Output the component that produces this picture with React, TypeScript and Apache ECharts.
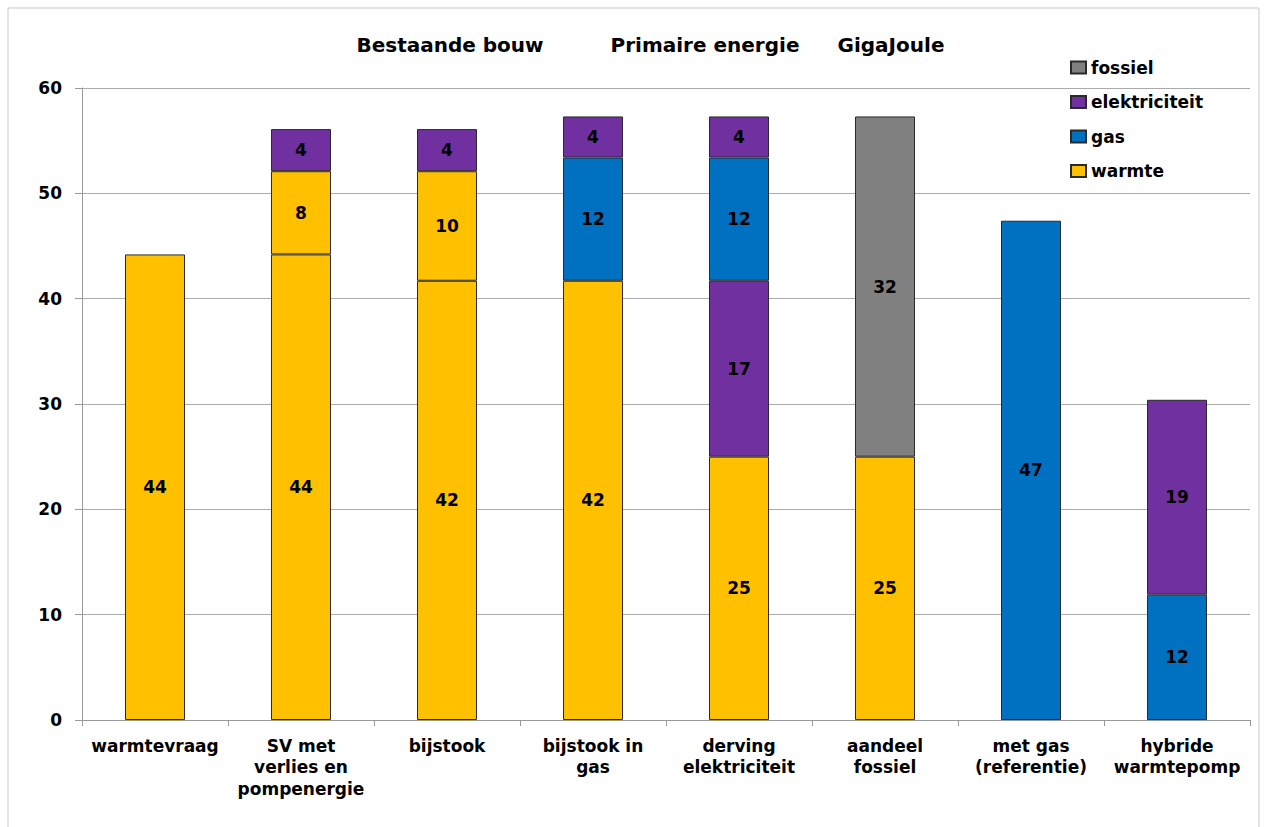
import React, { useEffect, useRef } from "react";
import * as echarts from "echarts";

const categories = [
  "warmtevraag",
  "SV met\nverlies en\npompenergie",
  "bijstook",
  "bijstook in\ngas",
  "derving\nelektriciteit",
  "aandeel\nfossiel",
  "met gas\n(referentie)",
  "hybride\nwarmtepomp",
];

// stack layers, bottom to top (null = no segment)
const warmteBase = [44.2, 44.2, 41.7, 41.7, 25.0, 25.0, null, null];
const gasBase = [null, null, null, null, null, null, 47.4, 11.9];
const warmteExtra = [null, 7.9, 10.4, null, null, null, null, null];
const elekLower = [null, null, null, null, 16.7, null, null, 18.5];
const gasUpper = [null, null, null, 11.7, 11.7, null, null, null];
const fossiel = [null, null, null, null, null, 32.3, null, null];
const elekUpper = [null, 4.0, 4.0, 3.9, 3.9, null, null, null];

const legendNames = ["fossiel", "elektriciteit", "gas", "warmte"];
const titles = ["Bestaande bouw", "Primaire energie", "GigaJoule"];

const COLORS: Record<string, string> = {
  warmte: "#FFC000",
  gas: "#0070C0",
  elektriciteit: "#7030A0",
  fossiel: "#808080",
};

const FONT = "DejaVu Sans";

export default function App() {
  const ref = useRef<HTMLDivElement>(null);
  useEffect(() => {
    const chart = echarts.init(ref.current!, null, { renderer: "svg" });
    const mk = (name: string, data: (number | null)[]) => ({
      name,
      type: "bar",
      stack: "total",
      barWidth: 60,
      data: data.map((v) => (v == null ? "-" : v)),
      itemStyle: { color: COLORS[name], borderColor: "#2a2a2a", borderWidth: 1 },
      label: {
        show: true,
        position: "inside",
        color: "#000",
        fontFamily: FONT,
        fontWeight: "bold",
        fontSize: 17,
        formatter: (p: any) => String(Math.round(p.value)),
      },
    });
    chart.setOption({
      animation: false,
      backgroundColor: "#fff",
      grid: { left: 82, right: 14, top: 88, bottom: 107, containLabel: false },
      legend: {
        orient: "vertical",
        left: 1065,
        top: 54,
        itemWidth: 15,
        itemHeight: 12,
        itemGap: 17.5,
        icon: "rect",
        data: legendNames,
        textStyle: { fontFamily: FONT, fontWeight: "bold", fontSize: 17, color: "#000" },
        selectedMode: false,
      },
      xAxis: {
        type: "category",
        data: categories,
        axisLine: { lineStyle: { color: "#999" } },
        axisTick: { show: true, length: 6, lineStyle: { color: "#999" } },
        axisLabel: {
          interval: 0,
          fontFamily: FONT,
          fontWeight: "bold",
          fontSize: 17,
          color: "#000",
          lineHeight: 21.5,
          margin: 15,
        },
      },
      yAxis: {
        type: "value",
        min: 0,
        max: 60,
        interval: 10,
        axisLine: { show: true, lineStyle: { color: "#999" } },
        axisTick: { show: true, length: 7, lineStyle: { color: "#999" } },
        splitLine: { lineStyle: { color: "#aaa" } },
        axisLabel: { fontFamily: FONT, fontWeight: "bold", fontSize: 17, color: "#000", margin: 20 },
      },
      graphic: [
        {
          type: "rect",
          shape: { x: 8, y: 8, width: 1251, height: 830 },
          style: { fill: "none", stroke: "#c8c8c8", lineWidth: 1 },
          silent: true,
        },
        ...titles.map((t, i) => ({
          type: "text",
          x: [450, 705, 891][i],
          y: 45,
          style: {
            text: t,
            fontFamily: FONT,
            fontWeight: "bold",
            fontSize: 20,
            fill: "#000",
            align: "center",
            verticalAlign: "middle",
          },
        })),
      ],
      series: [
        mk("warmte", warmteBase),
        mk("gas", gasBase),
        mk("warmte", warmteExtra),
        mk("elektriciteit", elekLower),
        mk("gas", gasUpper),
        mk("fossiel", fossiel),
        mk("elektriciteit", elekUpper),
      ],
    });
    return () => chart.dispose();
  }, []);
  return <div ref={ref} style={{ width: 1264, height: 827, position: "absolute", left: 0, top: 0 }} />;
}
